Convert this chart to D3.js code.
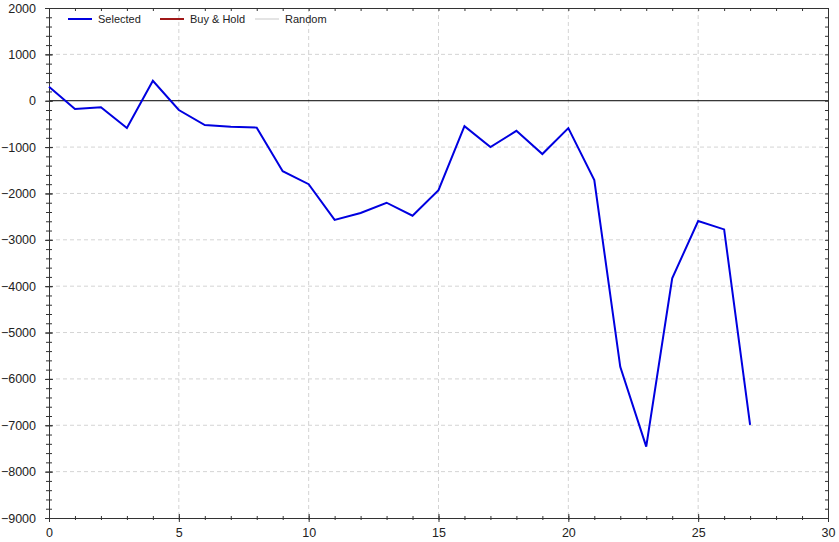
<!DOCTYPE html>
<html>
<head>
<meta charset="utf-8">
<script src="https://cdn.jsdelivr.net/npm/d3@7"></script>
<style>
  body { margin: 0; background: #fff; }
  svg { display: block; font-family: "DejaVu Sans", sans-serif; }
  .grid line { stroke: #d4d4d4; stroke-dasharray: 4,3; }
</style>
</head>
<body>
<script>
// trade index and equity of the "Selected" series
var trades = [0, 1, 2, 3, 4, 5, 6, 7, 8, 9, 10, 11, 12, 13, 14, 15, 16, 17, 18, 19, 20, 21, 22, 23, 24, 25, 26, 27];
var selected = [300, -180, -140, -590, 430, -200, -525, -560, -580, -1520, -1800, -2570, -2420, -2200,
  -2480, -1930, -550, -1000, -650, -1150, -590, -1710, -5740, -7460, -3830, -2595, -2775, -6990];
var xTicks = [0, 5, 10, 15, 20, 25, 30];
var yTicks = [2000, 1000, 0, -1000, -2000, -3000, -4000, -5000, -6000, -7000, -8000, -9000];
var legendItems = [
  {name: "Selected", color: "#0000e0"},
  {name: "Buy & Hold", color: "#a01818"},
  {name: "Random", color: "#e4e4e4"}
];

var W = 839, H = 542;
var m = {left: 49, right: 11, top: 8, bottom: 24};

var svg = d3.select("body").append("svg").attr("width", W).attr("height", H);

var x = d3.scaleLinear().domain([0, 30]).range([m.left, W - m.right]);
var y = d3.scaleLinear().domain([-9000, 2000]).range([H - m.bottom, m.top]);

// grid
var grid = svg.append("g").attr("class", "grid");
grid.selectAll(".gx").data(xTicks.slice(1, -1)).enter().append("line")
  .attr("x1", function(d) { return x(d); }).attr("x2", function(d) { return x(d); })
  .attr("y1", y(2000)).attr("y2", y(-9000));
grid.selectAll(".gy").data(yTicks.filter(function(d) { return d != 0 && d != 2000 && d != -9000; })).enter().append("line")
  .attr("y1", function(d) { return y(d); }).attr("y2", function(d) { return y(d); })
  .attr("x1", x(0)).attr("x2", x(30));

// zero line
svg.append("line")
  .attr("x1", x(0)).attr("x2", x(30))
  .attr("y1", y(0)).attr("y2", y(0))
  .attr("stroke", "#000").attr("stroke-width", 1);

// axes
var bottom = svg.append("g").attr("transform", "translate(0," + y(-9000) + ")")
  .call(d3.axisBottom(x).tickValues(xTicks).tickSize(4).tickSizeOuter(0).tickPadding(6).tickFormat(d3.format("d")));
bottom.selectAll("line").attr("y1", -4);
svg.append("g").attr("transform", "translate(0," + y(-9000) + ")")
  .call(d3.axisBottom(x).tickValues(d3.range(0, 31)).tickSize(2).tickSizeOuter(0).tickFormat(""))
  .selectAll("line").attr("y1", -2);

var left = svg.append("g").attr("transform", "translate(" + x(0) + ",0)")
  .call(d3.axisLeft(y).tickValues(yTicks).tickSize(4).tickSizeOuter(0).tickPadding(9).tickFormat(d3.format("d")));
left.selectAll("line").attr("x1", 4);
svg.append("g").attr("transform", "translate(" + x(0) + ",0)")
  .call(d3.axisLeft(y).tickValues(d3.range(-9000, 2001, 200)).tickSize(3).tickSizeOuter(0).tickFormat(""))
  .selectAll("line").attr("x1", 3);

svg.append("g").attr("transform", "translate(" + x(30) + ",0)")
  .call(d3.axisLeft(y).tickValues(d3.range(-9000, 2001, 200)).tickSize(3).tickSizeOuter(0).tickFormat(""));
svg.append("g").attr("transform", "translate(0," + y(2000) + ")")
  .call(d3.axisBottom(x).tickValues(d3.range(0, 31)).tickSize(3).tickSizeOuter(0).tickFormat(""));

svg.selectAll(".domain").attr("stroke", "#333");
svg.selectAll(".tick line").attr("stroke", "#333");
svg.selectAll(".tick text").attr("font-size", 12.5).attr("fill", "#222")
  .attr("font-family", "Liberation Sans, Arial, sans-serif");

// series
var line = d3.line()
  .x(function(d, i) { return x(trades[i]); })
  .y(function(d) { return y(d); });
svg.append("path").datum(selected)
  .attr("d", line)
  .attr("fill", "none")
  .attr("stroke", legendItems[0].color)
  .attr("stroke-width", 2)
  .attr("stroke-linejoin", "miter");

// legend
var lg = svg.append("g").attr("transform", "translate(68,19)");
var offs = [0, 92, 187];
var item = lg.selectAll("g").data(legendItems).enter().append("g")
  .attr("transform", function(d, i) { return "translate(" + offs[i] + ",0)"; });
item.append("line").attr("x1", 0).attr("x2", 24).attr("y1", 0).attr("y2", 0)
  .attr("stroke", function(d) { return d.color; }).attr("stroke-width", 2);
item.append("text").attr("x", 30).attr("dy", "0.35em")
  .attr("font-size", 11).attr("fill", "#222")
  .attr("font-family", "Liberation Sans, Arial, sans-serif")
  .text(function(d) { return d.name; });
</script>
</body>
</html>
